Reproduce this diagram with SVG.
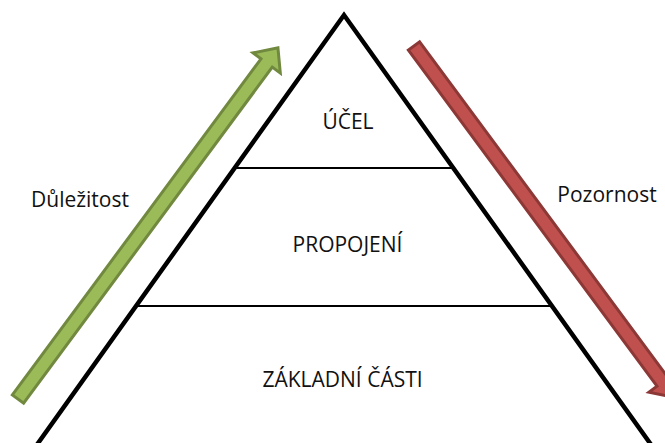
<svg xmlns="http://www.w3.org/2000/svg" width="665" height="443" viewBox="0 0 665 443">
<style>
.lbl{font-family:"Open Sans","Liberation Sans",sans-serif;font-size:21px;fill:#111;}
.mid{text-anchor:middle;}
.tri{fill:none;stroke:#000;stroke-width:4.5;stroke-linejoin:miter;}
.div{stroke:#000;stroke-width:2;}
.green{fill:#9BBB59;stroke:#71893F;stroke-width:3;}
.red{fill:#C0504D;stroke:#8C3836;stroke-width:3;}
</style>
<defs>
<polygon id="arrowShape" points="0,-7 418,-7 418,-17 437,0 418,17 418,7 0,7"/>
</defs>
<rect width="665" height="443" fill="#fff"/>
<g id="pyramid">
<polyline class="tri" points="36,446 344,15 652,446"/>
<line class="div" x1="235" y1="168" x2="452" y2="168"/>
<line class="div" x1="136" y1="306" x2="551" y2="306"/>
</g>
<g id="connectors">
<use href="#arrowShape" class="green" transform="translate(18,399) rotate(-53.5)"/>
<use href="#arrowShape" class="red" transform="translate(414,46) rotate(53.5)"/>
</g>
<g id="node-ucel"><text class="lbl mid" x="348" y="129">ÚČEL</text></g>
<g id="node-propojeni"><text class="lbl mid" x="347.5" y="252">PROPOJENÍ</text></g>
<g id="node-zakladni"><text class="lbl mid" x="342.5" y="387">ZÁKLADNÍ ČÁSTI</text></g>
<g id="node-dulezitost"><text class="lbl mid" x="80" y="207">Důležitost</text></g>
<g id="node-pozornost"><text class="lbl mid" x="607" y="202">Pozornost</text></g>
</svg>
